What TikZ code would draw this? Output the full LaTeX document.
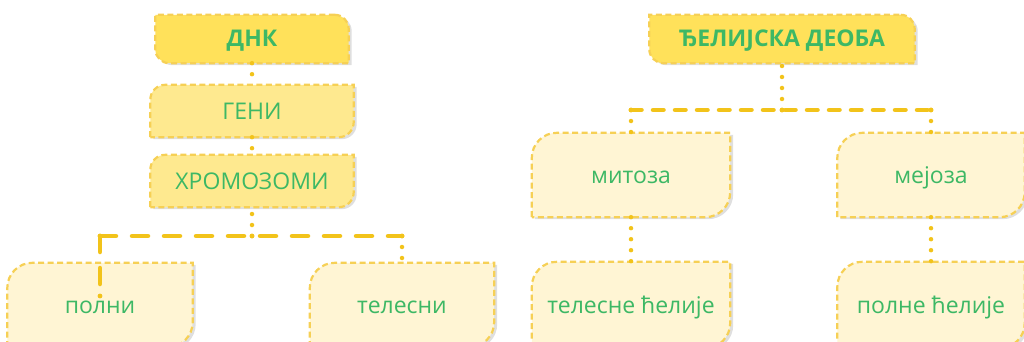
\documentclass[tikz,border=0pt]{standalone}
\usepackage{fontspec}
\setmainfont{Open Sans}
\usetikzlibrary{backgrounds,shadows}

\definecolor{txtgreen}{HTML}{3DB865}
\definecolor{headfill}{HTML}{FFE15A}
\definecolor{midfill}{HTML}{FEE98F}
\definecolor{leaffill}{HTML}{FFF5D4}
\definecolor{edgeyellow}{HTML}{F6D055}
\definecolor{linkyellow}{HTML}{F2C31A}

% box outlines: rounded NE and SW corners
\newcommand{\headshape}[3][]{%
  \path[#1] ([xshift=-#3]#2.north east) arc[start angle=90,end angle=0,radius=#3]
    -- (#2.south east) -- ([xshift=#3]#2.south west)
    arc[start angle=270,end angle=180,radius=#3] -- (#2.north west) -- cycle;}
% box outlines: rounded NW and SE corners
\newcommand{\leafshape}[3][]{%
  \path[#1] (#2.south west) -- ([yshift=-#3]#2.north west)
    arc[start angle=180,end angle=90,radius=#3] -- (#2.north east)
    -- ([yshift=#3]#2.south east) arc[start angle=0,end angle=-90,radius=#3] -- cycle;}

\begin{document}
\begin{tikzpicture}[x=1pt,y=1pt,line join=round,
    term/.style={inner sep=0pt,text=txtgreen,font=\fontsize{23}{28}\selectfont,
      text height=16pt,text depth=0pt},
    title/.style={term,font=\fontsize{23}{28}\selectfont\bfseries},
    outline/.style={draw=edgeyellow,line width=2.2pt,dash pattern=on 6pt off 3.5pt,
      drop shadow={shadow xshift=3pt,shadow yshift=-2pt,opacity=0.25,fill=black!50}},
    dotlink/.style={linkyellow,line width=4.5pt,line cap=round,dash pattern=on 0pt off 11pt},
    dashlinkL/.style={linkyellow,line width=4.5pt,line cap=round,dash pattern=on 16pt off 16pt},
    dashlinkR/.style={linkyellow,line width=4.5pt,line cap=round,dash pattern=on 10.5pt off 11.5pt}]
\useasboundingbox (0,0) rectangle (1024,-342);

% left tree
\node[title,minimum width=193pt,minimum height=48pt] (dnk) at (252,-39) {ДНК};
\node[term,minimum width=203pt,minimum height=52pt] (geni) at (252,-111) {ГЕНИ};
\node[term,minimum width=203pt,minimum height=52pt] (hrom) at (252,-181) {ХРОМОЗОМИ};
\node[term,minimum width=185pt,minimum height=84pt] (polni) at (100,-305) {полни};
\node[term,minimum width=184pt,minimum height=84pt] (telesni) at (402,-305) {телесни};

% right tree
\node[title,minimum width=265pt,minimum height=48pt] (deoba) at (782,-39) {ЂЕЛИЈСКА ДЕОБА};
\node[term,minimum width=198pt,minimum height=84pt] (mitoza) at (631,-175) {митоза};
\node[term,minimum width=187pt,minimum height=84pt] (mejoza) at (931,-175) {мејоза};
\node[term,minimum width=198pt,minimum height=86pt] (telesnec) at (631,-305) {телесне ћелије};
\node[term,minimum width=187pt,minimum height=86pt] (polnec) at (931,-305) {полне ћелије};

\begin{scope}[on background layer]
  \headshape[outline,fill=headfill]{dnk}{14pt}
  \headshape[outline,fill=headfill]{deoba}{14pt}
  \leafshape[outline,fill=midfill]{geni}{15pt}
  \leafshape[outline,fill=midfill]{hrom}{15pt}
  \foreach \n in {polni,telesni,mitoza,mejoza,telesnec,polnec}
    {\leafshape[outline,fill=leaffill]{\n}{25pt}}
\end{scope}

% connectors, left
\coordinate (jl) at (252,-236);
\coordinate (pl) at (100,-236);
\coordinate (pr) at (402,-236);
\coordinate (pe) at ([yshift=9pt]polni.center);
\draw[dotlink] (dnk.south) -- (geni.north);
\draw[dotlink] (geni.south) -- (hrom.north);
\draw[dotlink] (jl) -- (hrom.south);
\draw[dashlinkL] (pl) -- (pr);
\draw[dashlinkL] (pl) -- (pe);
\draw[dotlink] (pr) -- (telesni.north);
\fill[linkyellow] (jl) circle (2.4pt) (pl) circle (2.4pt) (pr) circle (2.4pt)
  (pe) circle (2.4pt);

% connectors, right
\coordinate (jr) at (782,-110);
\coordinate (ml) at (631,-110);
\coordinate (mr) at (931,-110);
\draw[dotlink] (jr) -- (deoba.south);
\draw[dashlinkR] (ml) -- (mr);
\draw[dotlink] (ml) -- (mitoza.north);
\draw[dotlink] (mr) -- (mejoza.north);
\draw[dotlink] (mitoza.south) -- (telesnec.north);
\draw[dotlink] (mejoza.south) -- (polnec.north);
\fill[linkyellow] (jr) circle (2.4pt) (ml) circle (2.4pt) (mr) circle (2.4pt);
\end{tikzpicture}
\end{document}
